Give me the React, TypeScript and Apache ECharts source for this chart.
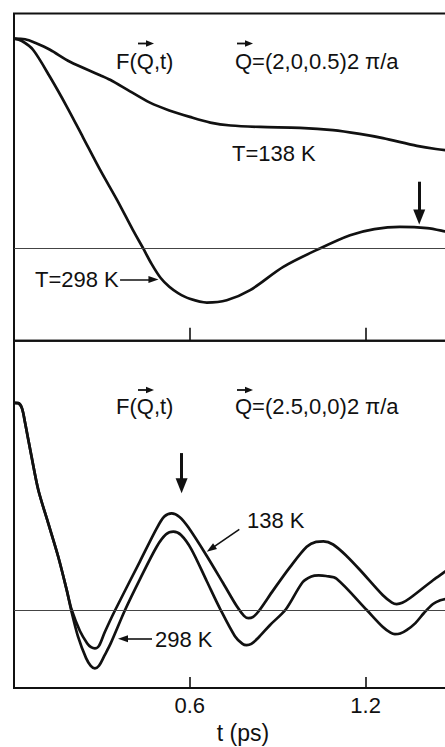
import React, { useEffect, useRef } from 'react';
import * as echarts from 'echarts';

// Top panel: Q = (2,0,0.5) 2π/a   [t (ps), F(Q,t)]
const topT138: [number, number][] = [
  [0, 1.0], [0.038, 0.997], [0.072, 0.98], [0.123, 0.947], [0.191, 0.89], [0.294, 0.826],
  [0.328, 0.804], [0.396, 0.749], [0.464, 0.695], [0.53, 0.658], [0.6, 0.627], [0.67, 0.6],
  [0.74, 0.586], [0.84, 0.579], [0.976, 0.575], [1.089, 0.564], [1.18, 0.546], [1.259, 0.526],
  [1.375, 0.489], [1.44, 0.474], [1.5, 0.465],
];
const topT298: [number, number][] = [
  [0, 1.0], [0.027, 0.989], [0.065, 0.947], [0.123, 0.817], [0.181, 0.674], [0.235, 0.531],
  [0.294, 0.374], [0.352, 0.23], [0.406, 0.087], [0.441, 0.0], [0.47, -0.075], [0.5, -0.14],
  [0.53, -0.183], [0.56, -0.213], [0.6, -0.24], [0.658, -0.258], [0.726, -0.247], [0.806, -0.199],
  [0.919, -0.088], [1.044, 0.0], [1.147, 0.063], [1.23, 0.092], [1.317, 0.103], [1.41, 0.097],
  [1.471, 0.081], [1.5, 0.071],
];

// Bottom panel: Q = (2.5,0,0) 2π/a
const botT138: [number, number][] = [
  [0, 1.0], [0.014, 0.999], [0.027, 0.975], [0.038, 0.903], [0.06, 0.74], [0.083, 0.58],
  [0.117, 0.419], [0.151, 0.258], [0.18, 0.097], [0.197, 0.001], [0.225, -0.1], [0.25, -0.16],
  [0.263, -0.178], [0.276, -0.184], [0.29, -0.172], [0.31, -0.105], [0.345, 0.0], [0.43, 0.236],
  [0.487, 0.395], [0.513, 0.452], [0.538, 0.467], [0.565, 0.45], [0.595, 0.4], [0.658, 0.262],
  [0.714, 0.13], [0.76, 0.02], [0.785, -0.027], [0.8, -0.038], [0.815, -0.033], [0.835, -0.005],
  [0.885, 0.097], [0.942, 0.208], [0.999, 0.306], [1.031, 0.33], [1.056, 0.332], [1.089, 0.317],
  [1.135, 0.262], [1.181, 0.194], [1.259, 0.072], [1.29, 0.037], [1.306, 0.03], [1.325, 0.036],
  [1.352, 0.059], [1.431, 0.146], [1.471, 0.186], [1.5, 0.216],
];
const botT298: [number, number][] = [
  [0, 1.0], [0.014, 0.999], [0.027, 0.975], [0.038, 0.903], [0.06, 0.74], [0.083, 0.58],
  [0.117, 0.419], [0.151, 0.258], [0.18, 0.097], [0.195, 0.001], [0.218, -0.125], [0.246, -0.231],
  [0.262, -0.268], [0.276, -0.28], [0.29, -0.268], [0.31, -0.215], [0.33, -0.16], [0.379, 0.001],
  [0.43, 0.15], [0.487, 0.306], [0.519, 0.366], [0.544, 0.379], [0.57, 0.363], [0.605, 0.295],
  [0.658, 0.14], [0.703, 0.008], [0.754, -0.125], [0.78, -0.162], [0.794, -0.168], [0.81, -0.162],
  [0.833, -0.134], [0.874, -0.071], [0.928, 0.005], [0.985, 0.135], [1.015, 0.163], [1.04, 0.168],
  [1.065, 0.165], [1.101, 0.152], [1.204, 0.001], [1.259, -0.081], [1.285, -0.108], [1.3, -0.115],
  [1.318, -0.112], [1.34, -0.096], [1.37, -0.062], [1.4, -0.012], [1.43, 0.03], [1.455, 0.048],
  [1.48, 0.056], [1.5, 0.058],
];

const xTickLabels = ['0.6', '1.2'];
const xMin = 0;
const xMax = 1.5;
const xInterval = 0.6;

const FONT = '"Liberation Sans", Arial, sans-serif';
const INK = '#111';

function arrow(from: [number, number], to: [number, number], width: number, head: [number, number]) {
  return [
    { coord: from, symbol: 'none', lineStyle: { width, color: INK, type: 'solid' } },
    { coord: to, symbol: 'triangle', symbolSize: head, lineStyle: { width, color: INK, type: 'solid' } },
  ];
}

function txt(text: string, x: number, y: number, align: string = 'left', size = 22) {
  return {
    type: 'text',
    x,
    y,
    silent: true,
    style: { text, fill: INK, font: `${size}px ${FONT}`, align, verticalAlign: 'middle' },
  };
}

function vecArrow(x1: number, x2: number, y: number) {
  return [
    { type: 'line', silent: true, shape: { x1, y1: y, x2: x2 - 4, y2: y }, style: { stroke: INK, lineWidth: 1.8 } },
    { type: 'polygon', silent: true, shape: { points: [[x2 - 7, y - 3.2], [x2 + 1, y], [x2 - 7, y + 3.2]] }, style: { fill: INK } },
  ];
}

export default function App() {
  const ref = useRef<HTMLDivElement>(null);
  useEffect(() => {
    const chart = echarts.init(ref.current!, null, { renderer: 'svg' });
    const gridBase = {
      left: 14, width: 439.5, show: true, borderColor: INK, borderWidth: 2,
      backgroundColor: 'transparent', containLabel: false, outerBoundsMode: 'none',
    };
    const xBase = {
      type: 'value', min: xMin, max: xMax, interval: xInterval,
      axisLine: { show: false, onZero: false }, splitLine: { show: false },
      axisTick: { show: true, inside: true, lineStyle: { color: INK, width: 1.6 } },
    };
    const yBase = {
      type: 'value', axisLine: { show: false, onZero: false }, axisTick: { show: false },
      axisLabel: { show: false }, splitLine: { show: false },
    };
    const lineBase = {
      type: 'line', showSymbol: false, symbol: 'none', smooth: 0.3, silent: true,
      lineStyle: { color: INK, width: 2.7 }, emphasis: { disabled: true },
    };
    const mlBase = {
      silent: true, symbol: ['none', 'none'], label: { show: false }, emphasis: { disabled: true },
      lineStyle: { color: INK, type: 'solid' },
    };
    const option = {
      animation: false,
      backgroundColor: '#fff',
      grid: [
        { ...gridBase, top: 13.5, height: 327.2 },
        { ...gridBase, top: 340.7, height: 347.3 },
      ],
      xAxis: [
        { ...xBase, gridIndex: 0, axisTick: { ...xBase.axisTick, length: 13 }, axisLabel: { show: false } },
        {
          ...xBase, gridIndex: 1, axisTick: { ...xBase.axisTick, length: 11 },
          axisLabel: {
            show: true, margin: 6, color: INK, fontSize: 22, fontFamily: FONT,
            formatter: (v: number) => {
              const i = [0.6, 1.2].findIndex((k) => Math.abs(k - v) < 1e-6);
              return i >= 0 ? xTickLabels[i] : '';
            },
          },
        },
      ],
      yAxis: [
        { ...yBase, gridIndex: 0, min: -0.44, max: 1.12 },
        { ...yBase, gridIndex: 1, min: -0.375, max: 1.3 },
      ],
      series: [
        {
          ...lineBase, name: 'T=138 K (top)', xAxisIndex: 0, yAxisIndex: 0, data: topT138,
          markLine: {
            ...mlBase,
            data: [
              { yAxis: 0, lineStyle: { width: 1.1, color: '#444', type: 'solid' } },
              arrow([0.362, -0.148], [0.476, -0.148], 1.6, [7, 10]),
              arrow([1.383, 0.318], [1.383, 0.15], 3, [12, 15]),
            ],
          },
        },
        { ...lineBase, name: 'T=298 K (top)', xAxisIndex: 0, yAxisIndex: 0, data: topT298 },
        {
          ...lineBase, name: '138 K (bottom)', xAxisIndex: 1, yAxisIndex: 1, data: botT138,
          markLine: {
            ...mlBase,
            data: [
              { yAxis: 0, lineStyle: { width: 1.1, color: '#444', type: 'solid' } },
              arrow([0.572, 0.758], [0.572, 0.6], 3, [12, 15]),
              arrow([0.769, 0.39], [0.672, 0.296], 1.6, [7, 10]),
              arrow([0.471, -0.138], [0.372, -0.138], 1.6, [7, 10]),
            ],
          },
        },
        { ...lineBase, name: '298 K (bottom)', xAxisIndex: 1, yAxisIndex: 1, data: botT298 },
      ],
      graphic: [
        txt('F(Q,t)', 116, 61),
        txt('Q=(2,0,0.5)2', 235, 61),
        txt('π/a', 365, 61),
        txt('T=138 K', 232, 153),
        txt('T=298 K', 35, 279),
        ...vecArrow(138, 153, 43.5),
        ...vecArrow(237, 252, 43.5),
        txt('F(Q,t)', 116, 406.5),
        txt('Q=(2.5,0,0)2', 235, 406.5),
        txt('π/a', 365, 406.5),
        txt('138 K', 247, 520.5),
        txt('298 K', 155, 639),
        ...vecArrow(138, 153, 390),
        ...vecArrow(237, 252, 390),
        txt('t (ps)', 243, 733, 'center', 23),
      ],
    };
    chart.setOption(option as any);
    return () => chart.dispose();
  }, []);
  return (
    <div
      ref={ref}
      style={{ position: 'absolute', left: 0, top: 0, width: 445, height: 747, background: '#fff' }}
    />
  );
}
